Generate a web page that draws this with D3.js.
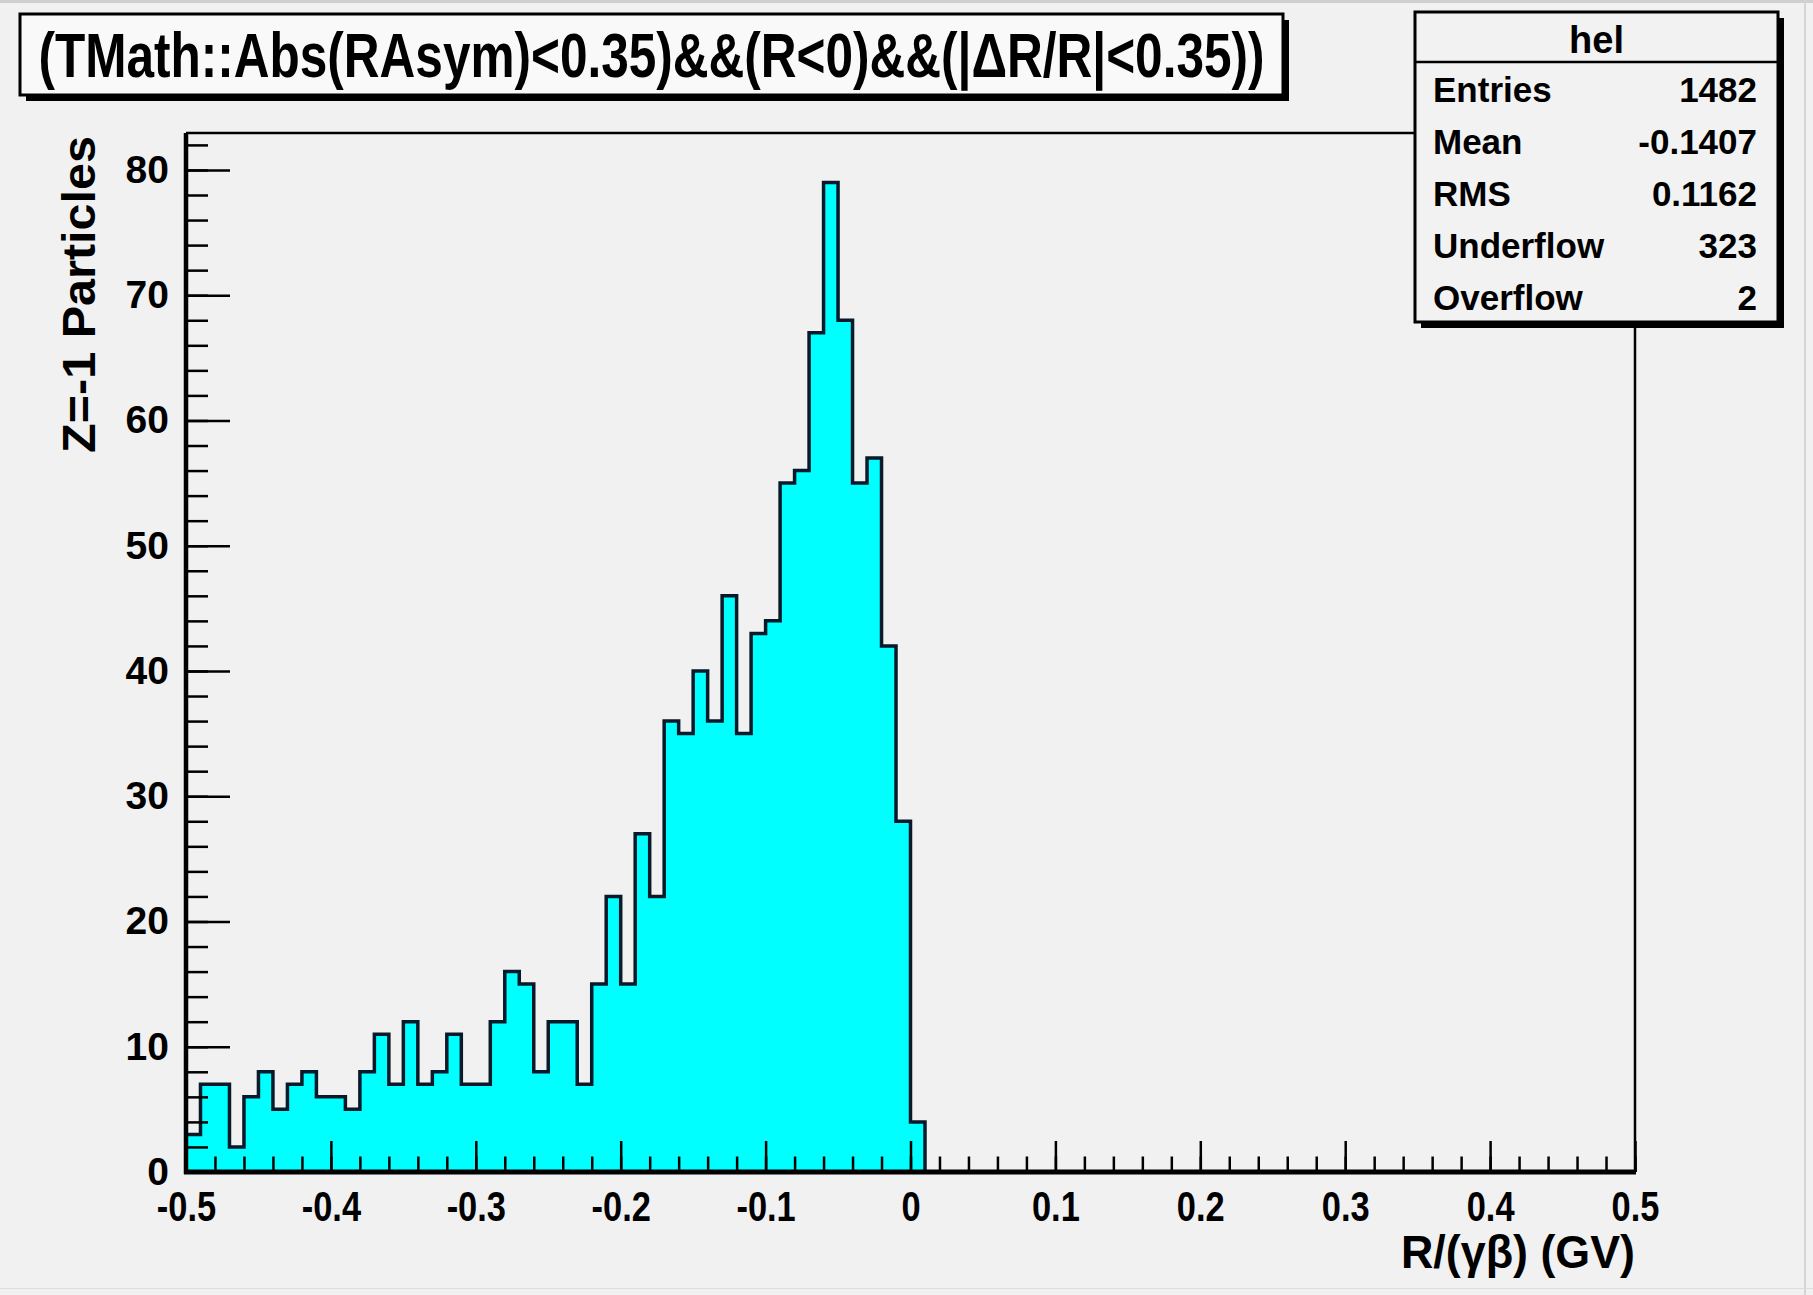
<!DOCTYPE html>
<html>
<head>
<meta charset="utf-8">
<script src="https://cdn.jsdelivr.net/npm/d3@7"></script>
<style>
  html, body { margin: 0; padding: 0; background: #f1f1f1; }
  svg { display: block; }
  text { font-family: "Liberation Sans", Arial, Helvetica, sans-serif; font-weight: bold; fill: #000; }
</style>
</head>
<body>
<svg id="chart" width="1813" height="1295"></svg>
<script>
// Histogram "hel": 100 bins over R/(γβ) from -0.5 to 0.5 GV
const xMin = -0.5;
const xMax = 0.5;
const binWidth = 0.01;
const binCounts = [
   3,  7,  7,  2,  6,  8,  5,  7,  8,  6,
   6,  5,  8, 11,  7, 12,  7,  8, 11,  7,
   7, 12, 16, 15,  8, 12, 12,  7, 15, 22,
  15, 27, 22, 36, 35, 40, 36, 46, 35, 43,
  44, 55, 56, 67, 79, 68, 55, 57, 42, 28,
   4,  0,  0,  0,  0,  0,  0,  0,  0,  0,
   0,  0,  0,  0,  0,  0,  0,  0,  0,  0,
   0,  0,  0,  0,  0,  0,  0,  0,  0,  0,
   0,  0,  0,  0,  0,  0,  0,  0,  0,  0,
   0,  0,  0,  0,  0,  0,  0,  0,  0,  0
];
const yMax = 82.95;

// axis ticks and labels
const xMajorTicks = [-0.5, -0.4, -0.3, -0.2, -0.1, 0, 0.1, 0.2, 0.3, 0.4, 0.5];
const xTickLabels = ["-0.5", "-0.4", "-0.3", "-0.2", "-0.1", "0", "0.1", "0.2", "0.3", "0.4", "0.5"];
const xMinorStep = 0.02;
const yMajorTicks = [0, 10, 20, 30, 40, 50, 60, 70, 80];
const yTickLabels = ["0", "10", "20", "30", "40", "50", "60", "70", "80"];
const yMinorStep = 2;

// texts
const titleText = "(TMath::Abs(RAsym)<0.35)&&(R<0)&&(|\u0394R/R|<0.35))";
const xTitle = "R/(\u03B3\u03B2) (GV)";
const yTitle = "Z=-1 Particles";
const statsName = "hel";
const statLabels = ["Entries", "Mean", "RMS", "Underflow", "Overflow"];
const statValues = ["1482", "-0.1407", "0.1162", "323", "2"];

const svg = d3.select("#chart");
const W = 1813, H = 1295;
const frame = { left: 186, right: 1635, top: 133, bottom: 1172 };

// canvas background and faint window edge
svg.append("rect").attr("width", W).attr("height", H).attr("fill", "#f1f1f1");
svg.append("rect").attr("x", 0).attr("y", 0).attr("width", W).attr("height", 3).attr("fill", "#cfcfcf");
svg.append("rect").attr("x", W - 9).attr("y", 0).attr("width", 2).attr("height", H).attr("fill", "#d4d4d4");
svg.append("rect").attr("x", 0).attr("y", H - 7).attr("width", W).attr("height", 1).attr("fill", "#dddddd");

const x = d3.scaleLinear().domain([xMin, xMax]).range([frame.left, frame.right]);
const y = d3.scaleLinear().domain([0, yMax]).range([frame.bottom, frame.top]);

// bin edges
const edges = d3.range(binCounts.length + 1).map(i => xMin + i * binWidth);

// step outline of the histogram
function stepPath(closed) {
  const p = d3.path();
  p.moveTo(x(edges[0]), y(0));
  binCounts.forEach((c, i) => {
    p.lineTo(x(edges[i]), y(c));
    p.lineTo(x(edges[i + 1]), y(c));
  });
  p.lineTo(x(edges[edges.length - 1]), y(0));
  if (closed) p.closePath();
  return p.toString();
}

svg.append("path").attr("d", stepPath(true))
  .attr("fill", "#00ffff").attr("stroke", "none");
svg.append("path").attr("d", stepPath(false))
  .attr("fill", "none").attr("stroke", "#08192a").attr("stroke-width", 3.5)
  .attr("stroke-linejoin", "miter");

// frame top and right
svg.append("line").attr("x1", frame.left).attr("x2", frame.right)
  .attr("y1", frame.top).attr("y2", frame.top).attr("stroke", "#000").attr("stroke-width", 2.5);
svg.append("line").attr("x1", frame.right).attr("x2", frame.right)
  .attr("y1", frame.top).attr("y2", frame.bottom).attr("stroke", "#000").attr("stroke-width", 2.5);

// x axis: minor and major ticks pointing into the frame
const xMinorTicks = d3.range(Math.round((xMax - xMin) / xMinorStep) + 1).map(i => xMin + i * xMinorStep);
const gxMinor = svg.append("g").attr("transform", `translate(0,${frame.bottom})`)
  .call(d3.axisBottom(x).tickValues(xMinorTicks).tickSize(-15.5).tickFormat(""));
const gx = svg.append("g").attr("transform", `translate(0,${frame.bottom})`)
  .call(d3.axisBottom(x).tickValues(xMajorTicks).tickSize(-31).tickPadding(19)
    .tickFormat((d, i) => xTickLabels[i]));

// y axis
const yMinorTicks = d3.range(0, Math.floor(yMax) + 1, yMinorStep);
const gyMinor = svg.append("g").attr("transform", `translate(${frame.left},0)`)
  .call(d3.axisLeft(y).tickValues(yMinorTicks).tickSize(-22).tickFormat(""));
const gy = svg.append("g").attr("transform", `translate(${frame.left},0)`)
  .call(d3.axisLeft(y).tickValues(yMajorTicks).tickSize(-44).tickPadding(17)
    .tickFormat((d, i) => yTickLabels[i]));

[gxMinor, gx, gyMinor, gy].forEach(g => {
  g.select(".domain").remove();
  g.selectAll(".tick line").attr("stroke", "#000").attr("stroke-width", 2.5);
});
gx.selectAll(".tick text")
  .attr("font-size", 42).attr("font-family", "Liberation Sans, Arial, sans-serif")
  .attr("font-weight", "bold").attr("fill", "#000")
  .attr("transform", "scale(0.82,1)");
gy.selectAll(".tick text")
  .attr("font-size", 39).attr("font-family", "Liberation Sans, Arial, sans-serif")
  .attr("font-weight", "bold").attr("fill", "#000");

// thick axis lines
svg.append("line").attr("x1", frame.left).attr("x2", frame.left)
  .attr("y1", frame.top).attr("y2", frame.bottom + 2).attr("stroke", "#000").attr("stroke-width", 4.5);
svg.append("line").attr("x1", frame.left - 2).attr("x2", frame.right + 1)
  .attr("y1", frame.bottom).attr("y2", frame.bottom).attr("stroke", "#000").attr("stroke-width", 5);

// axis titles
svg.append("text")
  .attr("x", frame.right).attr("y", 1268)
  .attr("text-anchor", "end").attr("font-size", 47)
  .attr("textLength", 234).attr("lengthAdjust", "spacingAndGlyphs")
  .text(xTitle);
svg.append("text")
  .attr("transform", `translate(95,${frame.top + 3}) rotate(-90)`)
  .attr("text-anchor", "end").attr("font-size", 47)
  .attr("textLength", 317).attr("lengthAdjust", "spacingAndGlyphs")
  .text(yTitle);

// boxed pave with drop shadow
function pave(x0, y0, x1, y1, fill) {
  svg.append("rect").attr("x", x0 + 6).attr("y", y0 + 6).attr("width", x1 - x0).attr("height", y1 - y0)
    .attr("fill", "#000");
  svg.append("rect").attr("x", x0).attr("y", y0).attr("width", x1 - x0).attr("height", y1 - y0)
    .attr("fill", fill).attr("stroke", "#000").attr("stroke-width", 3);
}

// title
pave(20, 14, 1283, 95, "#f9f9f9");
svg.append("text")
  .attr("x", (20 + 1283) / 2).attr("y", 77)
  .attr("text-anchor", "middle").attr("font-size", 63)
  .attr("textLength", 1226).attr("lengthAdjust", "spacingAndGlyphs")
  .text(titleText);

// statistics box
const sb = { x0: 1415, y0: 12, x1: 1778, y1: 322 };
pave(sb.x0, sb.y0, sb.x1, sb.y1, "#f2f2f2");
svg.append("line").attr("x1", sb.x0).attr("x2", sb.x1).attr("y1", 62).attr("y2", 62)
  .attr("stroke", "#000").attr("stroke-width", 2.5);
svg.append("text")
  .attr("x", (sb.x0 + sb.x1) / 2).attr("y", 53)
  .attr("text-anchor", "middle").attr("font-size", 38)
  .text(statsName);
const rowY = d3.scaleLinear().domain([0, statLabels.length - 1]).range([102, 310]);
statLabels.forEach((lab, i) => {
  svg.append("text").attr("x", 1433).attr("y", rowY(i))
    .attr("font-size", 35).text(lab);
  svg.append("text").attr("x", 1757).attr("y", rowY(i))
    .attr("text-anchor", "end").attr("font-size", 35).text(statValues[i]);
});
</script>
</body>
</html>
